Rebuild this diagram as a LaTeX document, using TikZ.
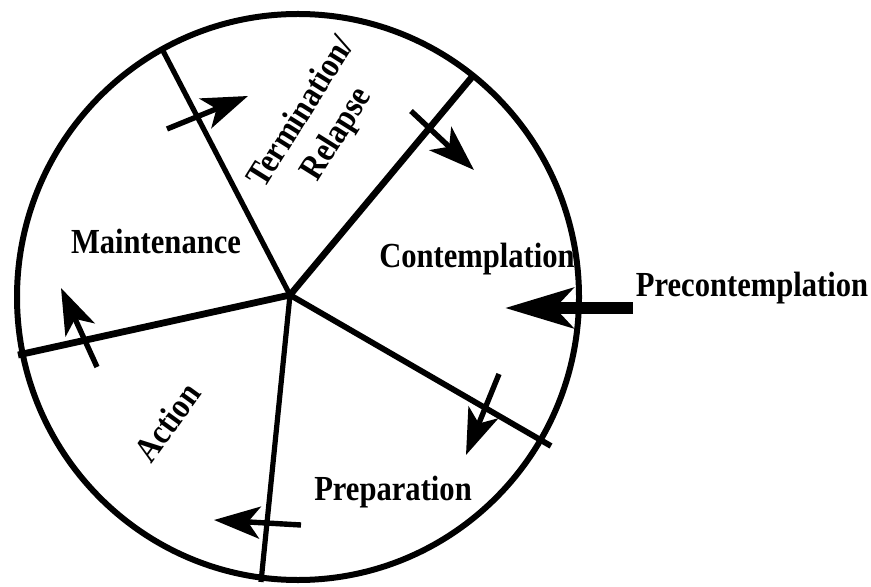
\documentclass[tikz,border=0pt]{standalone}
\usepackage{fontspec}
\setmainfont{Liberation Serif}
\usetikzlibrary{arrows.meta}
\begin{document}
\begin{tikzpicture}[x=0.5pt, y=-0.5pt]
\tikzset{
    rim/.style={line width=3pt, black},
    spoke/.style={line width=2.6pt, black},
    move/.style={line width=2.7pt, -{Stealth[length=23pt, width=16pt, inset=6pt]}},
    entry/.style={line width=6pt, -{Stealth[length=34pt, width=20pt, inset=9pt]}},
    stage/.style={font=\fontsize{15.3}{18}\selectfont\bfseries, yscale=1.15,
                  inner sep=0pt, align=center}
}
\useasboundingbox (0,0) rectangle (871,587);
% Rad
\coordinate (hub) at (290,295);
\draw[rim] (298,297) circle [x radius=140.5pt, y radius=141.5pt];
\coordinate (e1) at (161,47);
\coordinate (e2) at (472,77);
\coordinate (e3) at (551,446);
\coordinate (e4) at (261,582);
\coordinate (e5) at (18,355);
\draw[spoke] (hub) -- (e1);
\draw[spoke, line width=3.3pt] (hub) -- (e2);
\draw[spoke, line width=2.9pt] (hub) -- (e3);
\draw[spoke] (hub) -- (e4);
\draw[spoke, line width=3.4pt] (hub) -- (e5);
% Stufen
\node[stage] (maint) at (156,241) {Maintenance};
\node[rotate=58, stage] (term) at (320,124) {Termination/\\Relapse};
\node[stage] (cont) at (477,259) {Contemplation};
\node[stage] (pre) at (752,288) {Precontemplation};
\node[stage] (prep) at (393,492) {Preparation};
\node[rotate=54, stage] (act) at (167,422) {Action};
% Pfeile zwischen den Stufen
\coordinate (m1) at (167,129);  \coordinate (m1h) at (248,96);
\coordinate (m2) at (411,111);  \coordinate (m2h) at (474,170);
\coordinate (m3) at (499,374);  \coordinate (m3h) at (466,455);
\coordinate (m4) at (301,525);  \coordinate (m4h) at (214,520);
\coordinate (m5) at (97,367);   \coordinate (m5h) at (61,288);
\draw[move] (m1) -- (m1h);
\draw[move] (m2) -- (m2h);
\draw[move] (m3) -- (m3h);
\draw[move] (m4) -- (m4h);
\draw[move] (m5) -- (m5h);
\coordinate (p0) at (633,308);  \coordinate (p0h) at (505,308);
\draw[entry] (p0) -- (p0h);
\end{tikzpicture}
\end{document}
